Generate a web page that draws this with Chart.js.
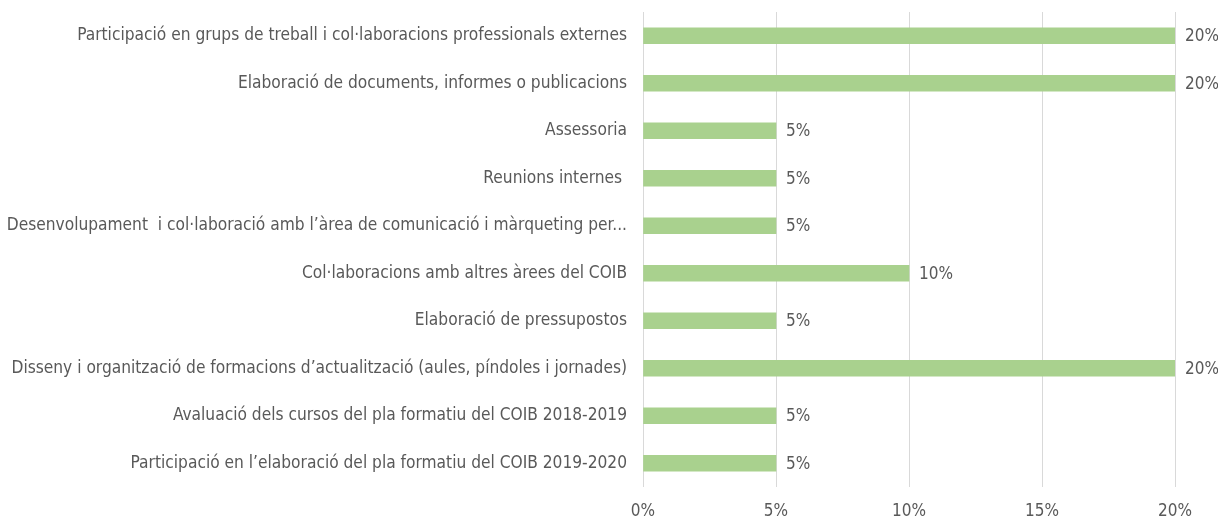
<!DOCTYPE html>
<html>
<head>
<meta charset="utf-8">
<script src="https://cdn.jsdelivr.net/npm/chart.js@4"></script>
<style>
  html, body { margin: 0; padding: 0; background: #ffffff; }
  #wrap { width: 1218px; height: 521px; }
</style>
</head>
<body>
<div id="wrap"><canvas id="chart"></canvas></div>
<script>
// Categories (top to bottom) and their percentages
const categories = [
    "Participació en grups de treball i col·laboracions professionals externes",
    "Elaboració de documents, informes o publicacions",
    "Assessoria",
    "Reunions internes ",
    "Desenvolupament  i col·laboració amb l’àrea de comunicació i màrqueting per...",
    "Col·laboracions amb altres àrees del COIB",
    "Elaboració de pressupostos",
    "Disseny i organització de formacions d’actualització (aules, píndoles i jornades)",
    "Avaluació dels cursos del pla formatiu del COIB 2018-2019",
    "Participació en l’elaboració del pla formatiu del COIB 2019-2020"
];
const values = [20, 20, 5, 5, 5, 10, 5, 20, 5, 5];
const tickValues = [0, 5, 10, 15, 20];

const fontFamily = "'Liberation Sans Narrow', 'DejaVu Sans Condensed', 'Open Sans', sans-serif";
const textColor = "#595959";

// Simple value labels drawn at the end of each bar
const valueLabels = {
    id: "valueLabels",
    afterDatasetsDraw(chart) {
        const ctx = chart.ctx;
        const meta = chart.getDatasetMeta(0);
        ctx.save();
        ctx.font = "17px " + fontFamily;
        ctx.fillStyle = textColor;
        ctx.textAlign = "left";
        ctx.textBaseline = "middle";
        meta.data.forEach((bar, i) => {
            ctx.fillText(values[i] + "%", bar.x + 10, bar.y + 1);
        });
        ctx.restore();
    }
};

new Chart(document.getElementById("chart").getContext("2d"), {
    type: "bar",
    data: {
        labels: categories,
        datasets: [{
            data: values,
            backgroundColor: "#a9d18e",
            borderWidth: 0,
            barThickness: 16
        }]
    },
    options: {
        indexAxis: "y",
        responsive: true,
        maintainAspectRatio: false,
        animation: false,
        layout: { padding: { top: 12, right: 43, bottom: 0, left: 0 } },
        plugins: {
            legend: { display: false },
            tooltip: { enabled: false }
        },
        scales: {
            x: {
                min: 0,
                max: 20,
                afterBuildTicks: (scale) => {
                    scale.ticks = tickValues.map(v => ({ value: v }));
                },
                afterFit: (scale) => { scale.height = 34; },
                grid: { color: "#d9d9d9", drawTicks: false, lineWidth: 1 },
                border: { display: false },
                ticks: {
                    color: textColor,
                    padding: 14,
                    font: { family: fontFamily, size: 17 },
                    callback: (v) => v + "%"
                }
            },
            y: {
                afterFit: (scale) => {
                    scale.width = 643;
                    // stop the label padding from pushing the plot down
                    scale.paddingTop = 0;
                    scale.paddingBottom = 0;
                },
                grid: { display: false, drawTicks: false },
                border: { display: false },
                ticks: {
                    color: textColor,
                    padding: 16,
                    autoSkip: false,
                    font: { family: fontFamily, size: 17.2 }
                }
            }
        }
    },
    plugins: [valueLabels]
});
</script>
</body>
</html>
